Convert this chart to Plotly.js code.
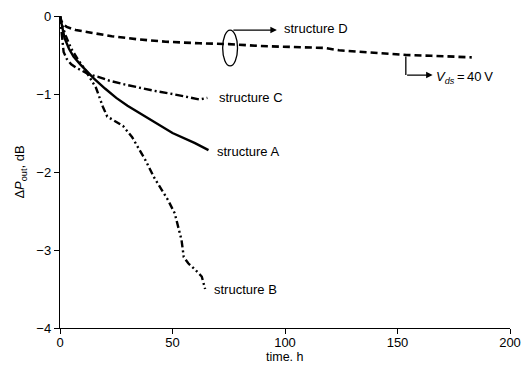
<!DOCTYPE html>
<html>
<head>
<meta charset="utf-8">
<script src="https://cdn.plot.ly/plotly-3.0.1.min.js"></script>
<style>html,body{margin:0;padding:0;background:#fff;}#chart{width:526px;height:365px;}</style>
</head>
<body>
<div id="chart"></div>
<script>
// Structure A (solid)
const hoursA = [0, 1, 2, 4, 6, 9, 12, 15, 20, 25, 30, 40, 50, 60, 66];
const dPA    = [0, -0.15, -0.28, -0.42, -0.52, -0.62, -0.71, -0.8, -0.93, -1.05, -1.15, -1.33, -1.5, -1.63, -1.72];
// Structure B (dash-dot-dot)
const hoursB = [0, 1, 2.5, 5, 8, 11, 13, 16, 19, 21, 24, 28, 32, 38, 42, 48, 51, 54, 55, 57, 60, 63, 64.5];
const dPB    = [0, -0.12, -0.25, -0.42, -0.56, -0.68, -0.78, -0.92, -1.16, -1.29, -1.34, -1.41, -1.55, -1.85, -2.08, -2.36, -2.53, -2.87, -3.09, -3.17, -3.25, -3.34, -3.5];
// Structure C (dash-dot)
const hoursC = [0, 0.5, 1, 1.6, 3, 5, 7, 10, 13, 17, 22, 29, 35, 42, 50, 57, 62, 65.5];
const dPC    = [0, -0.15, -0.3, -0.46, -0.55, -0.62, -0.66, -0.71, -0.75, -0.78, -0.83, -0.88, -0.92, -0.96, -1.0, -1.04, -1.07, -1.05];
// Structure D (dashed), Vds = 40 V
const hoursD = [0, 0.5, 1.5, 3, 7, 15, 23, 35, 47, 62, 75, 89, 105, 118, 124, 140, 154, 165, 175, 183];
const dPD    = [0, -0.06, -0.11, -0.14, -0.18, -0.22, -0.26, -0.3, -0.33, -0.35, -0.36, -0.385, -0.395, -0.41, -0.44, -0.47, -0.5, -0.51, -0.52, -0.53];

const xTicks = [0, 50, 100, 150, 200];
const yTicks = [0, -1, -2, -3, -4];
const yTickText = ['0', '\u22121', '\u22122', '\u22123', '\u22124'];
const xTitle = 'time. h';
const yTitle = '\u0394<i>P</i><sub>out</sub>, dB';

const FONT = 'Liberation Sans, Arial, Helvetica, sans-serif';

const traces = [
  {x: hoursD, y: dPD, mode: 'lines', line: {color: '#000', width: 2.6, dash: '7px,4px'}, name: 'D'},
  {x: hoursC, y: dPC, mode: 'lines', line: {color: '#000', width: 2.4, dash: '8px,3px,2px,3px'}, name: 'C'},
  {x: hoursA, y: dPA, mode: 'lines', line: {color: '#000', width: 2.4}, name: 'A'},
  {x: hoursB, y: dPB, mode: 'lines', line: {color: '#000', width: 2.4, dash: '7px,3px,2px,3px,2px,3px'}, name: 'B'}
];

const txt = {family: FONT, size: 13, color: '#000'};
const layout = {
  width: 526, height: 365,
  margin: {l: 59.5, r: 16, t: 16, b: 37},
  paper_bgcolor: '#fff', plot_bgcolor: '#fff',
  showlegend: false,
  font: txt,
  xaxis: {
    range: [0, 200], tickvals: xTicks, ticktext: xTicks.map(String),
    showline: true, linecolor: '#000', linewidth: 1.2,
    ticks: 'outside', ticklen: 5, tickcolor: '#000',
    ticklabelstandoff: -3,
    showgrid: false, zeroline: false,
    tickfont: txt
  },
  yaxis: {
    range: [-4, 0], tickvals: yTicks, ticktext: yTickText,
    showline: true, linecolor: '#000', linewidth: 1.2,
    ticks: 'outside', ticklen: 5, tickcolor: '#000',
    showgrid: false, zeroline: false,
    tickfont: txt,
    title: {text: yTitle, font: txt, standoff: 8}
  },
  shapes: [
    {type: 'circle', xref: 'x', yref: 'y', x0: 72.3, x1: 78.9, y0: -0.18, y1: -0.64, line: {color: '#000', width: 1.3}},
    {type: 'line', xref: 'x', yref: 'y', x0: 153.7, x1: 153.7, y0: -0.52, y1: -0.757, line: {color: '#000', width: 1.3}}
  ],
  annotations: [
    {xref: 'paper', yref: 'paper', x: 0.5, y: 0, yshift: -37, borderpad: 0, text: xTitle, showarrow: false, xanchor: 'center', yanchor: 'bottom', font: {family: FONT, size: 12.5, color: '#000'}},
    {x: 96.4, y: -0.18, ax: -45, ay: 0, text: '', showarrow: true, arrowhead: 2, arrowsize: 1, arrowwidth: 1.3, arrowcolor: '#000'},
    {x: 98.7, y: -0.155, text: 'structure D', showarrow: false, xanchor: 'left', yanchor: 'middle', font: txt},
    {x: 165.6, y: -0.757, ax: -27, ay: 0, text: '', showarrow: true, arrowhead: 2, arrowsize: 1, arrowwidth: 1.3, arrowcolor: '#000'},
    {x: 166.3, y: -0.79, text: '<i>V</i><sub><i>ds</i></sub>\u2009=\u200940\u2009V', showarrow: false, xanchor: 'left', yanchor: 'middle', font: txt},
    {x: 69.7, y: -1.05, text: 'structure C', showarrow: false, xanchor: 'left', yanchor: 'middle', font: txt},
    {x: 69.0, y: -1.74, text: 'structure A', showarrow: false, xanchor: 'left', yanchor: 'middle', font: txt},
    {x: 67.6, y: -3.51, text: 'structure B', showarrow: false, xanchor: 'left', yanchor: 'middle', font: txt}
  ]
};

Plotly.newPlot('chart', traces, layout, {staticPlot: true, displayModeBar: false});
</script>
</body>
</html>
